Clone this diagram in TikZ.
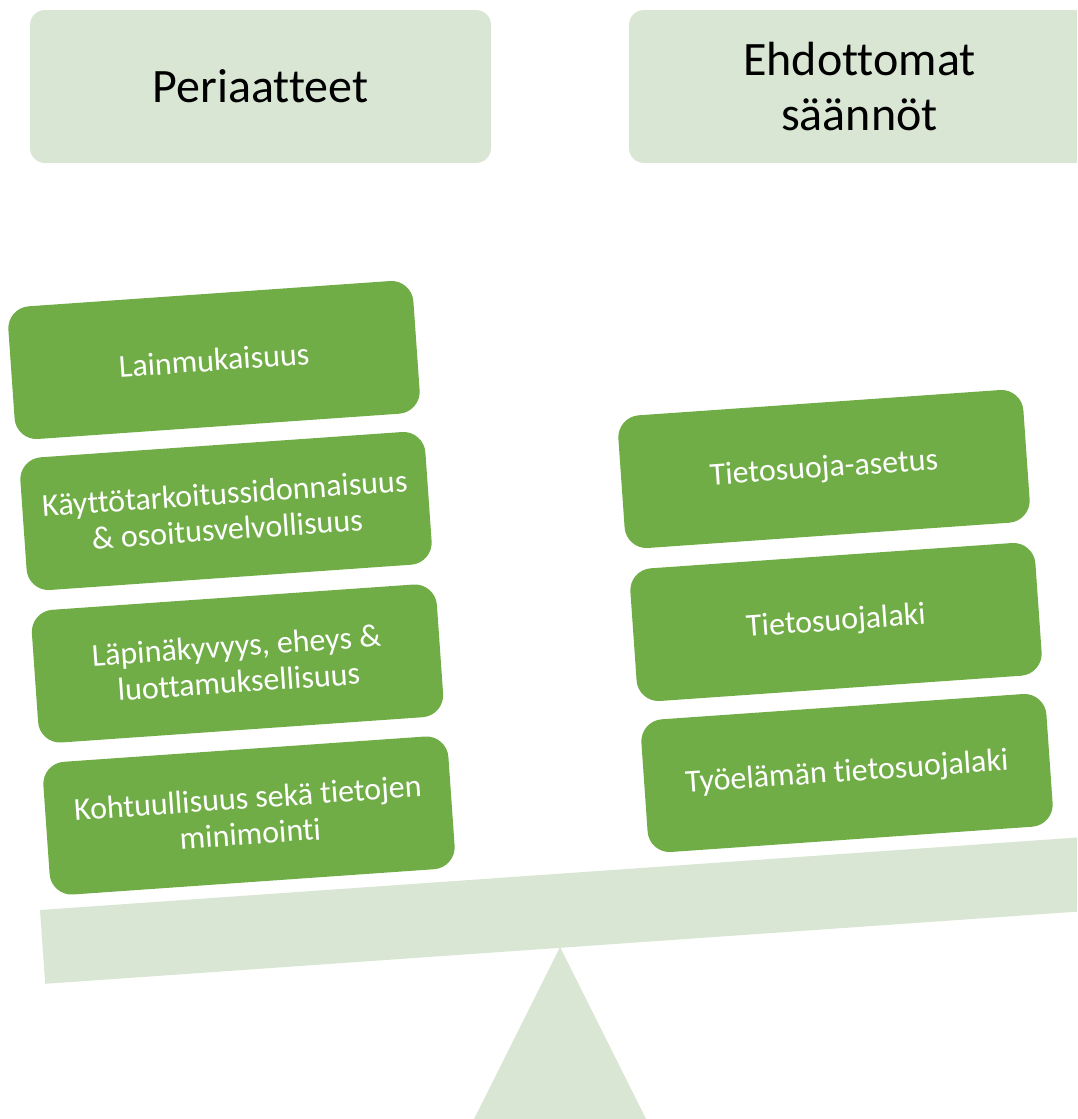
\documentclass[tikz,border=0pt]{standalone}
\usepackage{fontspec}
\setmainfont{Carlito}[Ligatures=NoCommon]
\definecolor{palegreen}{HTML}{DAE6D4}
\definecolor{leafgreen}{HTML}{70AD47}
\begin{document}
\begin{tikzpicture}[x=1pt, y=-1pt,
  header/.style={fill=palegreen, rounded corners=15pt, minimum width=461pt,
    minimum height=153pt, align=center, font=\fontsize{48}{55}\selectfont},
  item/.style={fill=leafgreen, rounded corners=22pt, minimum width=406pt,
    minimum height=133pt, align=center, text=white, rotate=4,
    font=\fontsize{32}{36}\selectfont}]
  \useasboundingbox (0,0) rectangle (1077,1119);
  \clip (0,0) rectangle (1077,1119);
  % Fulcrum
  \fill[palegreen] (560,947) -- (646,1119) -- (474,1119) -- cycle;
  % Beam
  \fill[palegreen] (40,910) -- (1140,833.1) -- (1145.2,906.9) -- (45.2,983.8) -- cycle;
  % Headers
  \node[header] (principles) at (260.5,86.5) {Periaatteet};
  \node[header] (rules) at (859.5,86.5) {Ehdottomat\\säännöt};
  % Left pan
  \foreach \i/\x/\y/\txt in {1/214/360/{Lainmukaisuus},
      2/226/511/{Käyttötarkoitussidonnaisuus\\\& osoitusvelvollisuus},
      3/237.5/663.5/{Läpinäkyvyys, eheys \&\\luottamuksellisuus},
      4/249/815.5/{Kohtuullisuus sekä tietojen\\minimointi}}
    \node[item] (left\i) at (\x,\y) {\txt};
  % Right pan
  \foreach \i/\x/\y/\txt in {1/824/469/{Tietosuoja-asetus},
      2/836/622/{Tietosuojalaki},
      3/847/773/{Työelämän tietosuojalaki}}
    \node[item] (right\i) at (\x,\y) {\txt};
\end{tikzpicture}
\end{document}
